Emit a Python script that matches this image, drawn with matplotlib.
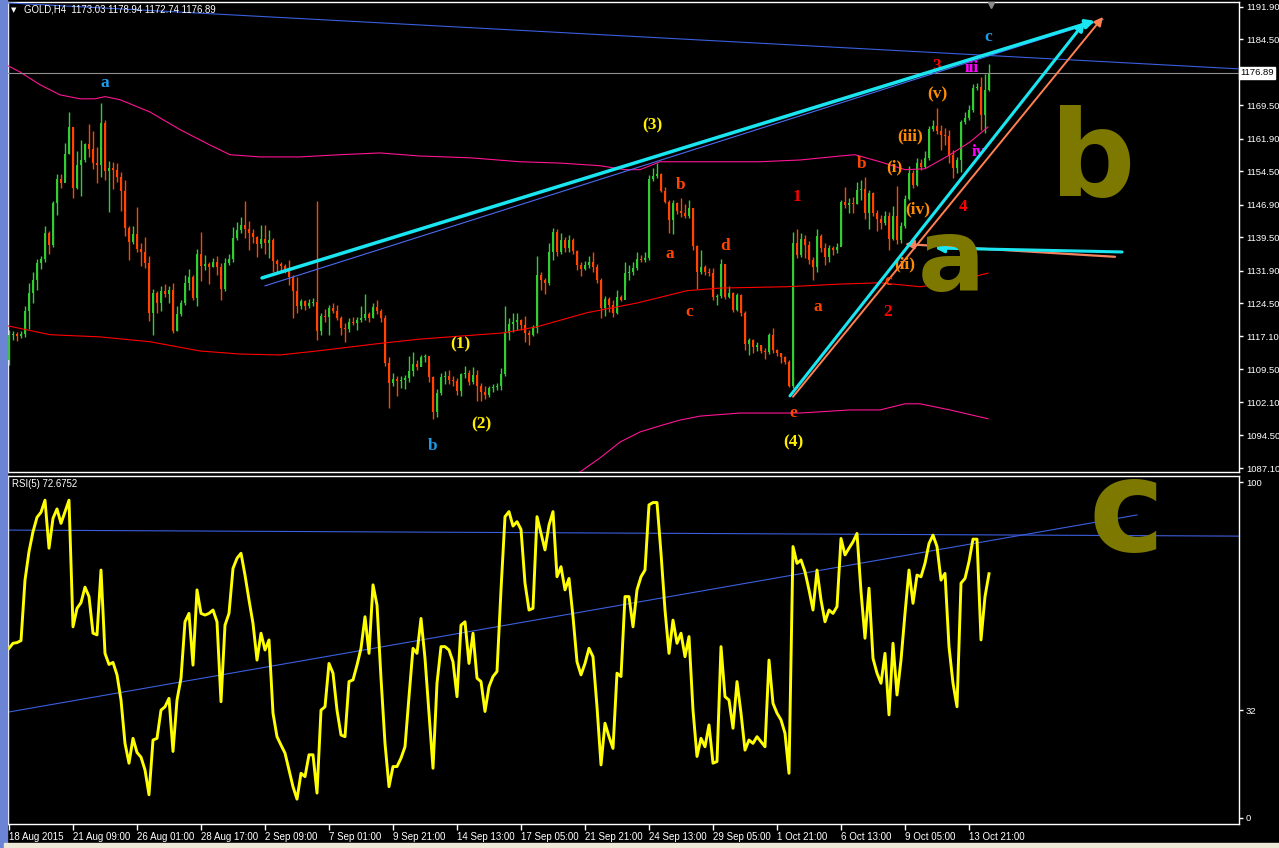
import matplotlib
matplotlib.use('Agg')
import matplotlib.pyplot as plt
from matplotlib.patches import Rectangle

# ---- data (GOLD H4, 18 Aug - 14 Oct 2015) ----
first_open = 1111.7
closes = [
    1117.4, 1117.6, 1117.1, 1117.6, 1122.8, 1126.9, 1129.9, 1133.7, 1134.6, 1140.5,
    1137.8, 1147.4, 1152.8, 1151.9, 1158.5, 1164.6, 1150.8, 1156.0, 1157.1, 1160.8,
    1159.6, 1156.4, 1156.0, 1165.5, 1154.6, 1155.3, 1154.9, 1153.3, 1150.1, 1141.7,
    1138.5, 1140.3, 1136.9, 1136.2, 1133.7, 1122.4, 1126.9, 1124.6, 1127.4, 1126.7,
    1127.6, 1118.3, 1122.1, 1124.6, 1129.2, 1130.5, 1125.8, 1135.8, 1133.0, 1133.5,
    1132.8, 1133.9, 1132.8, 1127.8, 1133.7, 1134.6, 1139.4, 1141.2, 1142.4, 1141.5,
    1140.5, 1139.6, 1138.0, 1139.2, 1138.3, 1139.0, 1134.2, 1133.5, 1133.0, 1132.4,
    1130.5, 1127.4, 1123.9, 1125.1, 1123.9, 1124.6, 1124.8, 1118.3, 1121.7, 1121.4,
    1123.5, 1122.8, 1121.2, 1118.9, 1118.7, 1120.3, 1120.1, 1120.8, 1121.2, 1122.1,
    1121.2, 1123.7, 1122.8, 1121.2, 1111.0, 1106.4, 1107.4, 1106.9, 1107.1, 1107.6,
    1109.2, 1110.8, 1110.1, 1112.4, 1112.6, 1107.8, 1099.8, 1104.2, 1107.8, 1108.0,
    1107.1, 1106.9, 1104.6, 1108.5, 1108.7, 1106.7, 1108.3, 1105.8, 1104.4, 1103.7,
    1105.3, 1105.5, 1105.8, 1108.5, 1117.8, 1119.9, 1120.3, 1120.8, 1119.6, 1117.8,
    1117.4, 1118.9, 1131.0, 1129.9, 1129.2, 1136.2, 1140.8, 1136.2, 1139.0, 1137.1,
    1139.0, 1136.4, 1133.3, 1132.4, 1133.3, 1133.9, 1132.8, 1129.9, 1123.5, 1125.5,
    1124.2, 1122.4, 1126.0, 1125.3, 1131.4, 1131.7, 1132.6, 1134.6, 1134.4, 1134.9,
    1152.8, 1153.5, 1154.0, 1150.1, 1147.6, 1143.5, 1147.4, 1145.5, 1145.1, 1144.4,
    1146.2, 1137.6, 1131.7, 1132.8, 1131.7, 1131.5, 1126.0, 1126.2, 1133.5, 1126.0,
    1126.9, 1123.0, 1126.4, 1122.4, 1115.3, 1116.2, 1114.6, 1115.1, 1113.7, 1113.5,
    1117.4, 1113.9, 1113.3, 1112.4, 1111.2, 1105.8, 1138.3, 1135.5, 1139.2, 1137.8,
    1134.4, 1132.8, 1139.9, 1137.1, 1135.1, 1137.1, 1136.7, 1137.4, 1147.6, 1146.9,
    1147.4, 1147.1, 1150.3, 1150.5, 1145.1, 1149.6, 1145.1, 1143.7, 1142.8, 1144.4,
    1139.2, 1144.4, 1139.0, 1142.1, 1148.3, 1154.2, 1151.4, 1156.4, 1155.5, 1157.6,
    1164.2, 1164.9, 1163.7, 1162.8, 1162.6, 1158.3, 1155.3, 1157.1, 1165.8, 1166.7,
    1168.5, 1173.5, 1173.7, 1167.4, 1173.0, 1176.89,
]
highs = [
    1118.5, 1118.3, 1118.0, 1118.3, 1123.9, 1129.2, 1131.7, 1134.6, 1135.3, 1142.1,
    1141.0, 1147.8, 1154.0, 1154.0, 1161.0, 1168.0, 1164.6, 1159.2, 1161.7, 1161.0,
    1165.3, 1163.7, 1160.1, 1170.1, 1166.2, 1156.9, 1156.7, 1156.4, 1154.4, 1152.6,
    1142.1, 1142.1, 1146.4, 1138.3, 1139.6, 1135.3, 1127.8, 1127.4, 1128.5, 1129.0,
    1128.5, 1129.2, 1123.9, 1125.3, 1131.0, 1132.4, 1131.0, 1136.9, 1140.8, 1135.5,
    1133.9, 1134.9, 1135.3, 1133.7, 1134.9, 1135.8, 1141.9, 1143.0, 1144.2, 1147.8,
    1143.3, 1141.5, 1139.9, 1142.4, 1142.4, 1141.2, 1139.4, 1134.6, 1133.9, 1133.5,
    1134.4, 1131.0, 1130.5, 1125.5, 1125.3, 1125.5, 1125.8, 1147.8, 1122.4, 1123.3,
    1124.2, 1124.6, 1124.2, 1121.7, 1120.1, 1121.2, 1121.4, 1121.4, 1123.9, 1126.7,
    1122.6, 1124.6, 1125.3, 1123.3, 1121.9, 1112.4, 1108.7, 1108.0, 1108.0, 1108.3,
    1112.6, 1113.5, 1111.7, 1112.8, 1113.0, 1111.2, 1108.0, 1105.1, 1108.7, 1109.2,
    1109.4, 1108.0, 1107.6, 1108.7, 1110.3, 1109.4, 1110.1, 1109.4, 1106.4, 1105.8,
    1105.8, 1106.2, 1106.4, 1109.9, 1123.9, 1121.2, 1122.4, 1122.4, 1121.0, 1121.7,
    1118.5, 1119.6, 1135.3, 1131.7, 1130.3, 1138.3, 1141.7, 1141.5, 1140.5, 1139.6,
    1140.1, 1139.4, 1136.7, 1133.9, 1134.2, 1135.3, 1136.2, 1133.5, 1130.3, 1126.2,
    1126.0, 1125.3, 1127.6, 1126.4, 1133.9, 1133.3, 1133.9, 1136.2, 1135.5, 1136.2,
    1153.7, 1155.3, 1156.4, 1154.2, 1151.0, 1148.0, 1148.0, 1147.6, 1148.5, 1147.1,
    1148.0, 1146.2, 1137.8, 1136.7, 1133.3, 1132.6, 1132.6, 1126.7, 1134.6, 1133.5,
    1128.5, 1127.1, 1126.9, 1126.7, 1122.8, 1116.7, 1116.4, 1115.8, 1115.1, 1114.4,
    1117.8, 1119.0, 1114.2, 1113.3, 1112.6, 1111.7, 1140.8, 1141.5, 1140.5, 1140.1,
    1138.7, 1135.1, 1141.5, 1140.3, 1138.3, 1137.8, 1137.6, 1138.3, 1148.0, 1151.0,
    1148.5, 1148.7, 1152.1, 1152.6, 1153.3, 1150.3, 1149.9, 1145.8, 1144.6, 1145.5,
    1145.3, 1146.7, 1151.2, 1143.0, 1149.2, 1155.8, 1154.9, 1157.6, 1157.4, 1159.2,
    1164.9, 1166.2, 1169.0, 1165.1, 1164.4, 1164.0, 1159.4, 1157.8, 1166.2, 1168.0,
    1169.6, 1174.4, 1174.6, 1176.0, 1176.7, 1178.94,
]
lows = [
    1110.5, 1116.2, 1116.0, 1116.7, 1116.9, 1118.7, 1124.6, 1127.6, 1132.4, 1133.9,
    1135.8, 1137.4, 1144.6, 1150.8, 1153.0, 1158.5, 1148.5, 1150.5, 1149.0, 1156.7,
    1157.8, 1155.1, 1151.9, 1153.3, 1152.6, 1145.3, 1150.5, 1152.1, 1145.5, 1139.9,
    1134.4, 1138.0, 1136.2, 1133.0, 1132.6, 1120.5, 1117.4, 1122.4, 1122.8, 1126.0,
    1124.6, 1117.8, 1118.3, 1121.7, 1124.2, 1127.6, 1125.3, 1123.9, 1129.6, 1132.1,
    1129.0, 1132.8, 1131.0, 1125.3, 1127.4, 1133.3, 1133.9, 1139.0, 1140.5, 1139.4,
    1136.7, 1138.3, 1135.1, 1137.1, 1135.8, 1134.9, 1131.7, 1131.7, 1131.9, 1131.5,
    1128.7, 1121.2, 1122.4, 1123.3, 1123.0, 1123.5, 1123.9, 1116.2, 1117.4, 1120.3,
    1117.4, 1122.4, 1120.8, 1117.4, 1115.8, 1118.0, 1119.6, 1118.5, 1120.3, 1120.8,
    1120.3, 1121.2, 1122.1, 1120.3, 1110.3, 1100.8, 1105.8, 1103.5, 1105.3, 1105.1,
    1106.7, 1108.0, 1109.4, 1110.3, 1111.2, 1106.7, 1098.3, 1098.7, 1103.7, 1106.2,
    1106.2, 1105.8, 1103.7, 1103.5, 1107.6, 1106.0, 1106.2, 1102.4, 1102.4, 1102.8,
    1103.3, 1104.4, 1104.9, 1104.9, 1108.0, 1116.2, 1118.0, 1118.5, 1118.5, 1115.8,
    1115.1, 1117.1, 1117.8, 1127.6, 1126.7, 1128.7, 1134.4, 1135.3, 1135.8, 1136.2,
    1136.2, 1135.8, 1132.1, 1130.8, 1132.1, 1132.6, 1131.7, 1129.2, 1121.2, 1121.7,
    1122.6, 1121.4, 1122.1, 1125.1, 1128.7, 1129.9, 1131.0, 1132.1, 1133.9, 1133.9,
    1134.4, 1152.4, 1153.0, 1149.9, 1147.4, 1140.5, 1140.3, 1144.9, 1144.2, 1144.0,
    1144.0, 1136.7, 1127.8, 1131.2, 1131.0, 1130.8, 1125.3, 1124.2, 1125.8, 1125.5,
    1125.8, 1122.6, 1122.8, 1121.7, 1113.9, 1112.8, 1113.3, 1113.7, 1113.3, 1111.9,
    1113.0, 1113.3, 1112.6, 1111.0, 1110.8, 1105.5, 1105.3, 1134.9, 1135.1, 1134.9,
    1133.5, 1129.9, 1131.7, 1136.2, 1133.3, 1133.9, 1135.5, 1136.0, 1137.8, 1146.2,
    1145.1, 1145.1, 1147.1, 1148.0, 1143.7, 1141.4, 1144.4, 1141.0, 1141.5, 1142.4,
    1136.7, 1139.0, 1138.0, 1138.3, 1141.7, 1148.0, 1150.8, 1151.2, 1154.9, 1155.3,
    1157.1, 1163.7, 1163.0, 1159.4, 1160.5, 1156.4, 1153.0, 1154.2, 1154.4, 1165.3,
    1166.2, 1168.0, 1173.0, 1164.0, 1163.3, 1172.74,
]
rsi = [
    50.5, 52.0, 52.2, 52.8, 70.8, 79.3, 85.2, 89.5, 91.0, 94.6,
    80.3, 89.2, 92.0, 87.7, 91.2, 94.6, 56.9, 62.4, 64.1, 68.7,
    65.9, 55.0, 54.5, 73.8, 49.0, 45.7, 46.3, 42.6, 35.1, 22.2,
    16.3, 23.7, 19.5, 18.1, 14.3, 6.9, 23.2, 23.7, 32.1, 33.1,
    35.6, 19.8, 35.1, 41.6, 58.4, 60.9, 45.5, 67.9, 60.9, 60.4,
    60.9, 61.9, 58.4, 34.6, 57.4, 60.9, 74.3, 77.3, 78.8, 72.3,
    64.9, 57.9, 47.0, 55.0, 50.0, 53.0, 31.2, 24.2, 21.7, 19.3,
    14.3, 9.3, 5.6, 13.3, 12.3, 18.8, 18.8, 7.4, 32.1, 33.1,
    46.0, 43.1, 32.1, 24.7, 24.2, 40.6, 41.1, 45.5, 50.5, 59.9,
    49.0, 69.4, 63.4, 41.6, 22.2, 9.3, 15.3, 15.3, 17.8, 21.2,
    36.1, 50.5, 49.0, 59.4, 47.5, 31.2, 14.8, 40.1, 51.0, 51.0,
    50.0, 46.5, 36.1, 57.4, 58.4, 46.0, 55.0, 41.6, 40.6, 31.7,
    39.1, 42.1, 43.6, 67.9, 89.7, 91.2, 86.9, 88.2, 85.9, 69.9,
    61.9, 62.4, 89.7, 84.7, 79.8, 87.2, 91.2, 71.8, 74.8, 67.9,
    71.3, 59.9, 46.5, 42.6, 46.0, 50.5, 48.0, 33.1, 15.8, 28.2,
    24.2, 20.7, 43.1, 42.1, 65.9, 65.9, 56.9, 67.9, 71.8, 73.8,
    93.2, 93.9, 93.9, 78.8, 61.9, 49.0, 58.9, 52.0, 55.0, 48.0,
    54.0, 32.1, 18.3, 23.7, 21.2, 27.7, 16.3, 16.8, 51.0, 36.1,
    35.1, 26.7, 40.6, 31.2, 20.2, 23.2, 22.2, 24.2, 22.7, 21.2,
    47.0, 34.1, 31.2, 29.2, 25.2, 13.3, 80.8, 75.8, 76.8, 73.3,
    67.9, 61.9, 73.8, 64.9, 58.4, 61.9, 60.9, 62.9, 83.2, 78.3,
    80.3, 82.2, 84.7, 67.4, 53.5, 68.4, 47.5, 43.1, 40.1, 49.0,
    30.7, 52.0, 36.6, 47.0, 60.9, 73.8, 63.9, 72.3, 71.8, 75.8,
    81.7, 84.2, 80.8, 70.8, 72.8, 51.0, 40.1, 33.1, 69.9, 71.3,
    76.3, 83.0, 83.0, 53.0, 65.9, 72.7,
]

# envelope / MA lines (bar index, price)
upper_x = [-0.25, 2.75, 7.75, 12.75, 17.75, 21.5, 24, 27.75, 35.25, 42.75, 50.25, 55.25, 62.75,
           72.75, 82.75, 92.75, 102.75, 115.25, 127.75, 137.75, 147.75, 154, 157.75, 162.75,
           172.75, 187.75, 197.75, 207.75, 211.5, 217.75, 224, 229, 235.25, 240.25, 244.75]
upper_y = [1178.5, 1177.1, 1174.2, 1171.9, 1171.0, 1171.0, 1171.5, 1170.8, 1168.0, 1164.0, 1160.5,
           1158.3, 1157.8, 1157.8, 1158.3, 1158.7, 1158.0, 1157.6, 1156.7, 1156.4, 1155.8, 1154.9,
           1154.9, 1156.7, 1156.7, 1156.7, 1157.1, 1158.0, 1158.3, 1156.7, 1154.9, 1155.1, 1158.3,
           1161.2, 1164.6]
mid_x = [-0.25, 10.25, 22.75, 35.25, 47.75, 57.75, 67.75, 77, 85.25, 93.5, 102.75, 123.5, 132,
         144.5, 157, 169.5, 177.75, 194.5, 207.75, 217.75, 227.75, 235.25, 244.75]
mid_y = [1119.4, 1117.4, 1116.9, 1115.8, 1113.7, 1113.0, 1112.8, 1113.7, 1114.6, 1115.5, 1116.4,
         1117.8, 1119.2, 1122.4, 1124.6, 1127.4, 1128.0, 1128.3, 1128.9, 1129.2, 1128.3, 1129.2,
         1131.4]
lower_x = [142.75, 147.75, 152.75, 157.75, 162.75, 167.75, 172.75, 182.75, 197.75, 210.25,
           217.75, 224, 227.75, 235.25, 244.75]
lower_y = [1086.2, 1089.4, 1093.0, 1095.3, 1096.7, 1098.0, 1098.9, 1099.6, 1099.6, 1100.3,
           1100.3, 1101.7, 1101.7, 1100.3, 1098.3]

price_ticks = [1191.90, 1184.50, 1169.50, 1161.90, 1154.50, 1146.90, 1139.50, 1131.90,
               1124.50, 1117.10, 1109.50, 1102.10, 1094.50, 1087.10]
bid = 1176.89
date_pos = list(range(0, 241, 16))
date_labels = ['18 Aug 2015', '21 Aug 09:00', '26 Aug 01:00', '28 Aug 17:00', '2 Sep 09:00',
               '7 Sep 01:00', '9 Sep 21:00', '14 Sep 13:00', '17 Sep 05:00', '21 Sep 21:00',
               '24 Sep 13:00', '29 Sep 05:00', '1 Oct 21:00', '6 Oct 13:00', '9 Oct 05:00',
               '13 Oct 21:00']

# wave labels: (text, bar, price, colour)
waves = [
    ('a', 24, 1174.6, '#1e9be9'), ('b', 106, 1092.1, '#1e9be9'), ('c', 244.75, 1185.1, '#1e9be9'),
    ('(1)', 112.75, 1115.1, '#ffee00'), ('(2)', 118, 1097.1, '#ffee00'),
    ('(3)', 160.75, 1164.9, '#ffee00'), ('(4)', 196, 1093.0, '#ffee00'),
    ('b', 168, 1151.4, '#ff4500'), ('a', 165.25, 1135.8, '#ff4500'), ('d', 179, 1137.6, '#ff4500'),
    ('c', 170, 1122.6, '#ff4500'), ('e', 196, 1099.6, '#ff4500'), ('a', 202.25, 1123.7, '#ff4500'),
    ('b', 213.25, 1156.2, '#ff4500'), ('c', 219.75, 1129.6, '#ff4500'),
    ('1', 197, 1148.7, '#ff0000'), ('2', 219.75, 1122.6, '#ff0000'),
    ('3', 232, 1178.5, '#ff0000'), ('4', 238.5, 1146.4, '#ff0000'),
    ('(i)', 221.25, 1155.5, '#ff8c00'), ('(ii)', 224, 1133.3, '#ff8c00'),
    ('(iii)', 225.25, 1162.4, '#ff8c00'), ('(iv)', 227.25, 1145.8, '#ff8c00'),
    ('(v)', 232, 1171.9, '#ff8c00'),
    ('iii', 240.75, 1178.0, '#ff00ff'), ('iv', 242.25, 1159.0, '#ff00ff'),
]

W, H = 1279, 848
small = 'Liberation Sans'
fig = plt.figure(figsize=(W / 100, H / 100), dpi=100, facecolor='black')


def rect(l, t, r, b):
    return [l / W, 1 - b / H, (r - l) / W, (b - t) / H]


ax = fig.add_axes(rect(8, 2, 1239, 472))
rx = fig.add_axes(rect(8, 476, 1239, 824), sharex=ax)
for a in (ax, rx):
    a.set_facecolor('black')
    for s in a.spines.values():
        s.set_color('white')
        s.set_linewidth(1)

# frame decorations of the terminal window
fig.patches.append(Rectangle((0, 0), 7 / W, 1, transform=fig.transFigure, color='#6c84d4', zorder=0))
fig.patches.append(Rectangle((4 / W, 0), 1, 5 / H, transform=fig.transFigure, color='#ece9d8', zorder=0))

# ---- candles ----
n = len(closes)
idx = list(range(n))
opens = [first_open] + closes[:-1]
cols = ['#32cd32' if c >= o else '#ff4500' for o, c in zip(opens, closes)]
bottoms = [min(o, c) for o, c in zip(opens, closes)]
heights = [max(abs(c - o), 0.2) for o, c in zip(opens, closes)]
ax.vlines(idx, lows, highs, colors=cols, linewidth=1, zorder=2)
ax.bar(idx, heights, bottom=bottoms, width=0.72, color=cols, linewidth=0, zorder=3)

ax.plot(upper_x, upper_y, color='#ff1493', lw=0.8, zorder=4)
ax.plot(mid_x, mid_y, color='#ff0000', lw=0.8, zorder=4)
ax.plot(lower_x, lower_y, color='#ff1493', lw=0.8, zorder=4)
ax.axhline(bid, color='#909090', lw=0.8, zorder=4)
ax.plot([-0.25, 307.5], [1192.8, 1177.8], color='#3a5fe0', lw=0.8, zorder=4)
ax.plot([64, 273.5], [1128.5, 1189.0], color='#4a6cf0', lw=0.8, zorder=5)

# hand drawn arrows
def arrow(x0, y0, x1, y1, color, lw, z):
    ax.annotate('', xy=(x1, y1), xytext=(x0, y0),
                arrowprops=dict(arrowstyle='-|>', color=color, lw=lw, mutation_scale=13,
                                shrinkA=0, shrinkB=0), zorder=z)

arrow(196, 1103.3, 273.5, 1189.6, '#ff8050', 1.4, 6)
arrow(276.5, 1135.1, 224, 1138.0, '#f4845f', 1.6, 6)
arrow(63.25, 1130.3, 271.5, 1188.7, '#19e6f0', 2.5, 7)
arrow(195.25, 1103.5, 269, 1188.5, '#19e6f0', 2.2, 7)
arrow(278.25, 1136.2, 231.5, 1137.1, '#19e6f0', 2.2, 7)

for s, xi, p, c in waves:
    ax.text(xi, p, s, color=c, fontsize=12.5, family='Liberation Serif', fontweight='bold',
            ha='center', va='center', zorder=6)

ax.plot(245.5, 1192.3, marker='v', color='#8a8a8a', ms=4, clip_on=False, zorder=8)

ax.set_xlim(-0.25, 307.5)
ax.set_ylim(1086.2, 1193.0)
ax.yaxis.tick_right()
ax.set_yticks(price_ticks)
ax.set_yticklabels([f'{v:.2f}' for v in price_ticks], family=small)
ax.tick_params(axis='y', colors='white', labelsize=6.8, length=3, pad=2, width=1)
ax.tick_params(axis='x', bottom=False, labelbottom=False)
ax.text(1 + 1.5 / 1231, bid, f'{bid:.2f}', transform=ax.get_yaxis_transform(), fontsize=6.8,
        family=small, color='black', ha='left', va='center',
        bbox=dict(boxstyle='square,pad=0.12', fc='white', ec='white'))

# ---- RSI panel ----
rx.plot(idx, rsi, color='#ffff00', lw=2.1, zorder=3)
rx.plot([-0.25, 307.5], [85.7, 83.9], color='#3a5fe0', lw=0.8, zorder=2)
rx.plot([-0.25, 282], [31.5, 90.2], color='#3a5fe0', lw=0.8, zorder=2)
rx.set_ylim(-1.8, 101.8)
rx.yaxis.tick_right()
rx.set_yticks([100, 32, 0])
rx.set_yticklabels(['100', '32', '0'], family=small)
rx.tick_params(axis='y', colors='white', labelsize=6.8, length=3, pad=2, width=1)
rx.set_xticks(date_pos)
rx.set_xticklabels(date_labels, family=small)
rx.tick_params(axis='x', colors='white', labelsize=7, length=4, pad=2, width=1)
for lbl in rx.get_xticklabels():
    lbl.set_horizontalalignment('left')

# header texts
fig.text(11 / W, 1 - 10 / H, '\u25bc', color='white', fontsize=5, va='center')
fig.text(24 / W, 1 - 10 / H, 'GOLD,H4  1173.03 1178.94 1172.74 1176.89', color='white',
         fontsize=6.9, family=small, va='center')
fig.text(12 / W, 1 - 484 / H, 'RSI(5) 72.6752', color='white', fontsize=6.9, family=small,
         va='center')

# big olive hand written letters
olive = '#7d7800'
fig.text(1050 / W, 1 - 196 / H, 'b', color=olive, fontsize=86, fontweight='bold', va='baseline')
fig.text(918 / W, 1 - 291 / H, 'a', color=olive, fontsize=72, fontweight='bold', va='baseline')
fig.text(1088 / W, 1 - 551 / H, 'c', color=olive, fontsize=92, fontweight='bold', va='baseline')

fig.savefig('out.png', dpi=100, facecolor='black')
